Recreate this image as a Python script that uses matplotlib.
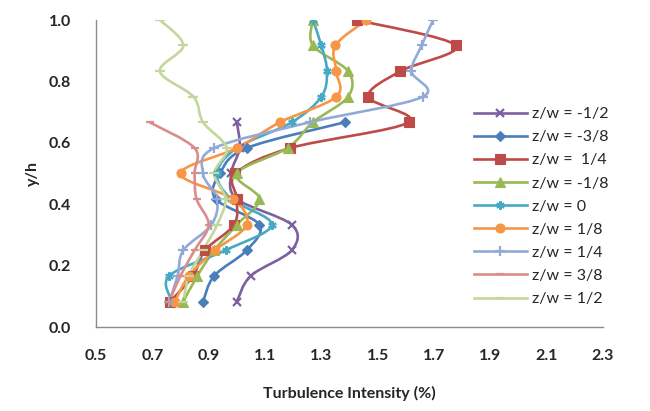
import numpy as np
import matplotlib
matplotlib.use("Agg")
import matplotlib.pyplot as plt
from matplotlib.path import Path
from matplotlib.patches import PathPatch
from matplotlib.lines import Line2D


# measurement heights y/h
Y_H = [0.083, 0.167, 0.25, 0.333, 0.417, 0.5, 0.583, 0.667, 0.75, 0.833, 0.917, 1.0]

# turbulence intensity (%) per spanwise station, bottom to top
TI_NEG_1_2 = [1.00, 1.05, 1.195, 1.195, 1.00, 0.98, 1.01, 1.00]
TI_NEG_3_8 = [0.88, 0.92, 1.035, 1.08, 0.925, 0.94, 1.035, 1.384]
TI_POS_1_4A = [0.763, 0.845, 0.887, 0.99, 1.00, 0.995, 1.19, 1.61, 1.467, 1.58, 1.777, 1.425]
TI_NEG_1_8 = [0.81, 0.86, 0.92, 1.00, 1.08, 1.00, 1.18, 1.27, 1.395, 1.395, 1.27, 1.27]
TI_ZERO = [0.77, 0.76, 0.96, 1.124, 0.98, 0.93, 1.00, 1.195, 1.30, 1.32, 1.30, 1.27]
TI_POS_1_8 = [0.78, 0.83, 0.923, 1.035, 0.985, 0.80, 1.00, 1.153, 1.353, 1.353, 1.35, 1.46]
TI_POS_1_4B = [0.76, 0.79, 0.81, 0.91, 0.93, 0.88, 0.92, 1.26, 1.66, 1.62, 1.656, 1.697]
TI_POS_3_8 = [0.76, 0.80, 0.85, 0.90, 0.857, 0.85, 0.85, 0.69]
TI_POS_1_2 = [0.81, 0.83, 0.88, 0.93, 0.96, 0.92, 0.964, 0.88, 0.846, 0.727, 0.81, 0.727]

LABELS = ["z/w = -1/2", "z/w = -3/8", "z/w =  1/4", "z/w = -1/8", "z/w = 0",
          "z/w = 1/8", "z/w = 1/4", "z/w = 3/8", "z/w = 1/2"]

X_TICKS = [0.5, 0.7, 0.9, 1.1, 1.3, 1.5, 1.7, 1.9, 2.1, 2.3]
Y_TICKS = [0.0, 0.2, 0.4, 0.6, 0.8, 1.0]

SERIES = [TI_NEG_1_2, TI_NEG_3_8, TI_POS_1_4A, TI_NEG_1_8, TI_ZERO,
          TI_POS_1_8, TI_POS_1_4B, TI_POS_3_8, TI_POS_1_2]

COLORS = ['#7D60A0', '#4A7EBB', '#BE4B48', '#98B954', '#46AAC5',
          '#F79646', '#93A9D8', '#DA8D8B', '#C3D69B']
MARKERS = ['x', 'D', 's', '^', (6, 2, 0), 'o', '+', '_', '_']
MSIZES = [6, 5.5, 6.5, 6.5, 6, 6.5, 7, 6, 7]


def smooth_path(xs, ys):
    # Catmull-Rom style cubic through every point (like spreadsheet "smoothed line")
    pts = np.column_stack([xs, ys])
    n = len(pts)
    verts = [pts[0]]
    codes = [Path.MOVETO]
    for i in range(n - 1):
        p0 = pts[max(i - 1, 0)]
        p1 = pts[i]
        p2 = pts[i + 1]
        p3 = pts[min(i + 2, n - 1)]
        verts += [p1 + (p2 - p0) / 6, p2 - (p3 - p1) / 6, p2]
        codes += [Path.CURVE4] * 3
    return Path(verts, codes)


def edge_width(mk):
    return 1.6 if mk in ('x', '+', '_') or isinstance(mk, tuple) else 0.8


plt.rcParams['font.family'] = ['Lato', 'DejaVu Sans']
text_color = '#262626'

fig = plt.figure(figsize=(6.5, 4.11), dpi=100)
ax = fig.add_axes([96 / 650, 1 - 327 / 411, 507 / 650, 307 / 411])

handles = []
for vals, col, mk, ms in zip(SERIES, COLORS, MARKERS, MSIZES):
    ys = Y_H[:len(vals)]
    ax.add_patch(PathPatch(smooth_path(vals, ys), facecolor='none',
                           edgecolor=col, lw=1.9, zorder=2))
    ax.plot(vals, ys, linestyle='none', marker=mk, color=col, markersize=ms,
            markeredgewidth=edge_width(mk), zorder=3)
    handles.append(Line2D([], [], color=col, lw=1.9, marker=mk, markersize=ms,
                          markeredgewidth=edge_width(mk)))

ax.set_xlim(0.5, 2.3)
ax.set_ylim(0.0, 1.0)
ax.set_xticks(X_TICKS)
ax.set_yticks(Y_TICKS)
ax.set_xticklabels([f"{v:.1f}" for v in X_TICKS])
ax.set_yticklabels([f"{v:.1f}" for v in Y_TICKS])
ax.tick_params(length=0, labelsize=11.5, colors=text_color)
for lab in ax.get_xticklabels() + ax.get_yticklabels():
    lab.set_fontweight('bold')
ax.tick_params(axis='x', pad=16)
ax.tick_params(axis='y', pad=18)

for side in ['top', 'right']:
    ax.spines[side].set_visible(False)
for side in ['left', 'bottom']:
    ax.spines[side].set_color('#8C8C8C')
    ax.spines[side].set_linewidth(1.0)

ax.set_xlabel("Turbulence Intensity (%)", fontsize=11.5, fontweight='bold',
              color=text_color, labelpad=16)
ax.set_ylabel("y/h", fontsize=11.5, fontweight='bold', color=text_color, labelpad=6)

fig.legend(handles, LABELS, loc='upper left', bbox_to_anchor=(474 / 650, 1 - 107 / 411),
           frameon=False, fontsize=11.5, handlelength=3.3, handletextpad=0.3,
           labelspacing=0.56, borderpad=0, borderaxespad=0, labelcolor=text_color)

fig.savefig("out.png", dpi=100)
